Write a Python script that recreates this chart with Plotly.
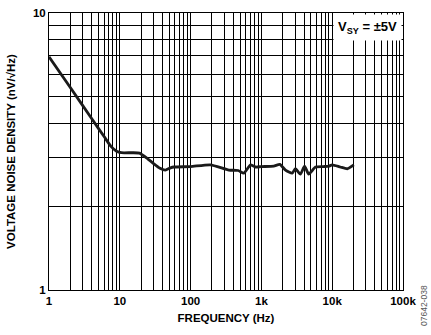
import plotly.graph_objects as go

# Data
freq_hz = [1, 2, 4, 6, 7.5, 9, 10.5, 15, 19, 25, 30, 37, 44, 52, 58, 100, 191, 347, 470, 564, 640, 701,
           826, 1000, 1496, 1820, 2190, 2720, 3020, 3550, 4070, 4660, 5810, 7500, 8960,
           10000, 13000, 16300, 20200]
noise_nv = [6.95, 5.38, 4.16, 3.58, 3.30, 3.17, 3.13, 3.13, 3.12, 2.97, 2.86, 2.75, 2.71, 2.76, 2.78,
            2.79, 2.83, 2.71, 2.70, 2.64, 2.75, 2.83, 2.78, 2.79, 2.80, 2.84, 2.71, 2.64,
            2.74, 2.62, 2.80, 2.62, 2.78, 2.79, 2.80, 2.83, 2.78, 2.74, 2.83]

x_decades = [1, 10, 100, 1000, 10000, 100000]
x_decade_labels = ["1", "10", "100", "1k", "10k", "100k"]
y_decades = [1, 10]
y_decade_labels = ["1", "10"]

# Build log tick positions (all 1..9 multiples), labels only at decades
x_tickvals, x_ticktext = [], []
for d, lab in zip(x_decades, x_decade_labels):
    if d == x_decades[-1]:
        x_tickvals.append(d); x_ticktext.append(lab)
        break
    for m in range(1, 10):
        x_tickvals.append(d * m)
        x_ticktext.append(lab if m == 1 else "")
y_tickvals, y_ticktext = [], []
for m in range(1, 10):
    y_tickvals.append(y_decades[0] * m)
    y_ticktext.append(y_decade_labels[0] if m == 1 else "")
y_tickvals.append(y_decades[1]); y_ticktext.append(y_decade_labels[1])

fig = go.Figure()
fig.add_trace(go.Scatter(x=freq_hz, y=noise_nv, mode="lines",
                         line=dict(color="#1a1a1a", width=2.8, shape="spline", smoothing=0.5),
                         showlegend=False, hoverinfo="skip"))

axis_common = dict(showline=True, linecolor="black", linewidth=1, mirror=True,
                   showgrid=True, gridcolor="black", gridwidth=1, ticks="",
                   zeroline=False, tickfont=dict(size=11.5, color="black"))

fig.update_xaxes(type="log", range=[0, 5], tickvals=x_tickvals, ticktext=x_ticktext,
                 tickangle=0,
                 title=dict(text="FREQUENCY (Hz)", font=dict(size=11.5, color="black"), standoff=8),
                 **axis_common)
fig.update_yaxes(type="log", range=[0, 1], tickvals=y_tickvals, ticktext=y_ticktext,
                 title=dict(text="VOLTAGE NOISE DENSITY (nV/√Hz)", font=dict(size=11.5, color="black"), standoff=14),
                 **axis_common)

fig.add_annotation(xref="paper", yref="paper", x=0.996, y=0.996, xanchor="right", yanchor="top",
                   text="V<sub>SY</sub> = ±5V", showarrow=False, bgcolor="white",
                   font=dict(size=13, color="black"), borderpad=4)
fig.add_annotation(xref="paper", yref="paper", x=1.06, y=-0.057, xanchor="center", yanchor="middle",
                   text="07642-038", textangle=-90, showarrow=False,
                   font=dict(size=8.5, color="#555555", weight="normal"))

fig.update_layout(width=431, height=335, margin=dict(l=49, r=28, t=7, b=45),
                  paper_bgcolor="white", plot_bgcolor="white",
                  font=dict(family="Liberation Sans, Arial, sans-serif", weight="bold", color="black"))

fig.write_html("out.html")
